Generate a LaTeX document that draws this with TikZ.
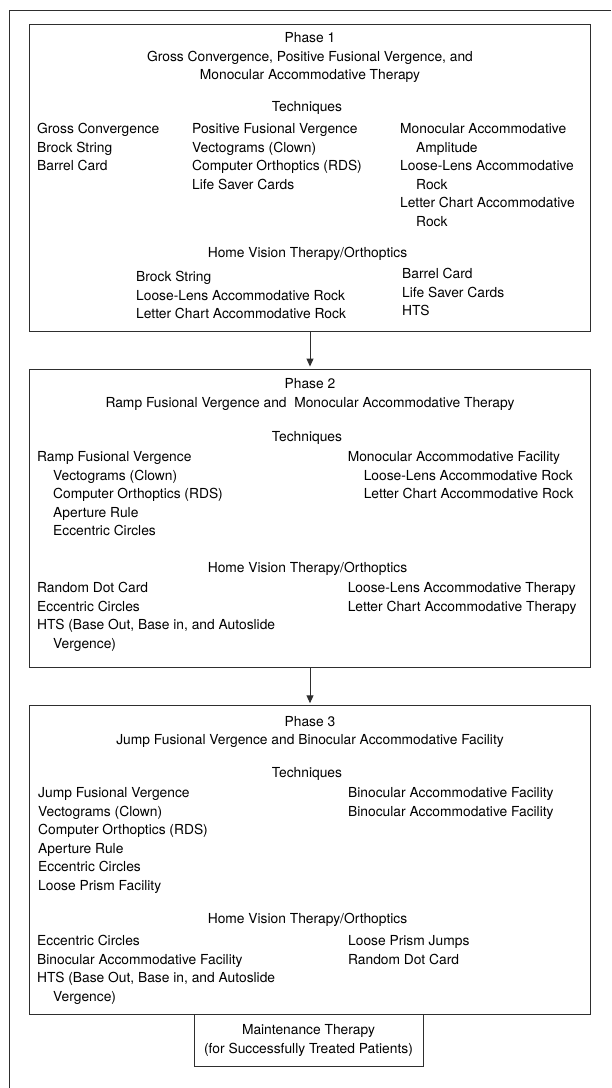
\documentclass[tikz,border=0pt]{standalone}
\usepackage{fontspec}
\setmainfont{TeX Gyre Heros}
\usetikzlibrary{arrows.meta}
\definecolor{linegray}{HTML}{2E2E2E}
\newcommand\ind{\hspace*{16pt}}
% style, name, x, first baseline, lines
\newcommand\placelines[5]{%
  \foreach \txt [count=\k] in {#5}
    \node[#1] (#2-\k) at (#3,{#4+(\k-1)*18.5}) {\txt};
}
\begin{document}
\begin{tikzpicture}[x=1pt,y=-1pt,
    every node/.style={font=\fontsize{13.8pt}{18.5pt}\selectfont, inner sep=0pt},
    phasebox/.style={draw=linegray, line width=1pt, minimum width=561.6pt},
    entry/.style={anchor=base west},
    head/.style={anchor=base},
    arr/.style={-{Triangle[length=8pt,width=7pt]}, draw=linegray, line width=1pt, shorten >=2pt}]
  \useasboundingbox (0,0) rectangle (611,1088);
  % outer frame
  \draw[linegray, line width=1pt] (611,10) -- (9.5,10) -- (9.5,1088);

  % phase 1
  \node[phasebox, minimum height=307pt] (phase1) at (310,177.5) {};
  \placelines{head}{t1}{310}{42.5}{Phase 1, {Gross Convergence, Positive Fusional Vergence, and}, Monocular Accommodative Therapy}
  \node[head] (tech1) at (307,111.8) {Techniques};
  \placelines{entry}{a1}{37}{133.8}{Gross Convergence, Brock String, Barrel Card}
  \placelines{entry}{b1}{192}{133.8}{Positive Fusional Vergence, Vectograms (Clown), Computer Orthoptics (RDS), Life Saver Cards}
  \placelines{entry}{c1}{400}{133.8}{Monocular Accommodative, \ind Amplitude, Loose-Lens Accommodative, \ind Rock, Letter Chart Accommodative, \ind Rock}
  \node[head] (home1) at (307.5,257.8) {Home Vision Therapy/Orthoptics};
  \placelines{entry}{h1}{136}{281.8}{Brock String, Loose-Lens Accommodative Rock, Letter Chart Accommodative Rock}
  \placelines{entry}{r1}{402}{278.8}{Barrel Card, Life Saver Cards, HTS}

  % phase 2
  \node[phasebox, minimum height=298.3pt] (phase2) at (310,518.2) {};
  \placelines{head}{t2}{310}{388.8}{Phase 2, Ramp Fusional Vergence and\ \ Monocular Accommodative Therapy}
  \node[head] (tech2) at (307,441.5) {Techniques};
  \placelines{entry}{a2}{37}{461.8}{Ramp Fusional Vergence, \ind Vectograms (Clown), \ind Computer Orthoptics (RDS), \ind Aperture Rule, \ind Eccentric Circles}
  \placelines{entry}{b2}{347.6}{461.8}{Monocular Accommodative Facility, \ind Loose-Lens Accommodative Rock, \ind Letter Chart Accommodative Rock}
  \node[head] (home2) at (307.5,572.8) {Home Vision Therapy/Orthoptics};
  \placelines{entry}{h2}{37}{592.8}{Random Dot Card, Eccentric Circles, {HTS (Base Out, Base in, and Autoslide}, \ind Vergence)}
  \placelines{entry}{r2}{347.6}{592.8}{Loose-Lens Accommodative Therapy, Letter Chart Accommodative Therapy}

  % phase 3
  \node[phasebox, minimum height=308.3pt] (phase3) at (310,859.9) {};
  \placelines{head}{t3}{310}{726.2}{Phase 3, Jump Fusional Vergence and Binocular Accommodative Facility}
  \node[head] (tech3) at (307,777.8) {Techniques};
  \placelines{entry}{a3}{38}{797.8}{Jump Fusional Vergence, Vectograms (Clown), Computer Orthoptics (RDS), Aperture Rule, Eccentric Circles, Loose Prism Facility}
  \placelines{entry}{b3}{348}{797.8}{Binocular Accommodative Facility, Binocular Accommodative Facility}
  \node[head] (home3) at (307.5,923.2) {Home Vision Therapy/Orthoptics};
  \placelines{entry}{h3}{37}{945.5}{Eccentric Circles, Binocular Accommodative Facility, {HTS (Base Out, Base in, and Autoslide}, \ind Vergence)}
  \placelines{entry}{r3}{348}{945.5}{Loose Prism Jumps, Random Dot Card}

  % maintenance
  \node[draw=linegray, line width=1pt, align=center, anchor=north,
        minimum width=229pt, minimum height=51.7pt] (maint) at (308.5,1014)
        {Maintenance Therapy\\(for Successfully Treated Patients)};

  \draw[arr] (phase1.south) -- (phase2.north);
  \draw[arr] (phase2.south) -- (phase3.north);
\end{tikzpicture}
\end{document}
